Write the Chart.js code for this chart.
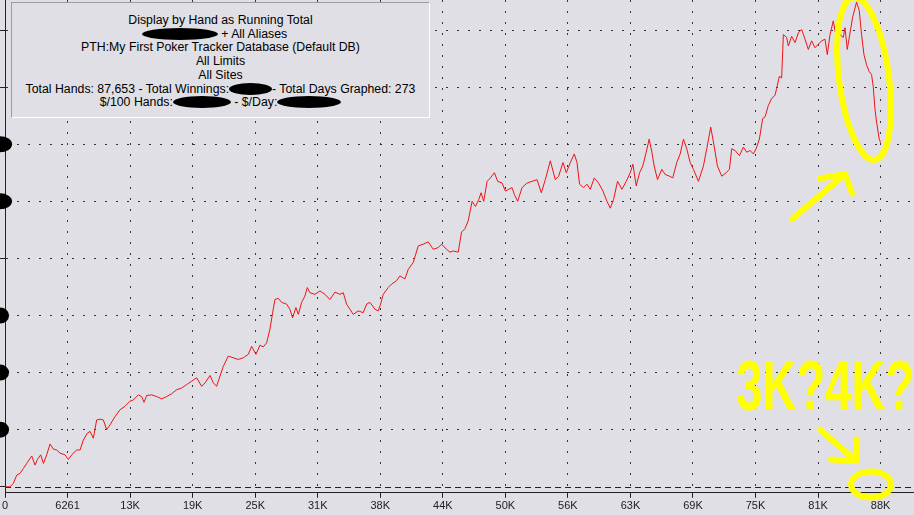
<!DOCTYPE html>
<html>
<head>
<meta charset="utf-8">
<script src="https://cdn.jsdelivr.net/npm/chart.js@4.4.1/dist/chart.umd.min.js"></script>
<style>
    html, body {
        margin: 0;
        padding: 0;
        background: #dfdfe5;
    }
    #wraper {
        position: relative;
        width: 914px;
        height: 515px;
        overflow: hidden;
        background: #dfdfe5;
    }
    .info-box {
        position: absolute;
        left: 11px;
        top: 2px;
        width: 419px;
        height: 116px;
        padding-top: 11px;
        box-sizing: border-box;
        background: #dfdfe5;
        border-top: 1px solid #9c9ca2;
        border-left: 1px solid #9c9ca2;
        border-right: 1px solid #fff;
        border-bottom: 1px solid #fff;
        font: 12.3px "Liberation Sans", Arial, sans-serif;
        line-height: 13.7px;
        color: #000;
        text-align: center;
    }
    .info-box div {
        white-space: nowrap;
    }
    .blot {
        display: inline-block;
        height: 12px;
        background: #000;
        border-radius: 50%;
        vertical-align: -2px;
    }
</style>
</head>
<body>
<div id="wraper">
    <canvas id="chart"></canvas>
    <div class="info-box">
        <div>Display by Hand as Running Total</div>
        <div style="margin-right:12px"><span class="blot" style="width:76px"></span> + All Aliases</div>
        <div>PTH:My First Poker Tracker Database (Default DB)</div>
        <div>All Limits</div>
        <div>All Sites</div>
        <div>Total Hands: 87,653 - Total Winnings:<span class="blot" style="width:43px"></span>- Total Days Graphed: 273</div>
        <div>$/100 Hands:<span class="blot" style="width:58px"></span> - $/Day:<span class="blot" style="width:64px"></span></div>
    </div>
</div>
<script>
// hands played (x) and running total (y)
var hands = [
    0, 500, 830, 1170, 1500, 1830, 2170, 2670, 3000, 3240,
    3570, 3840, 4170, 4500, 4840, 5170, 5500, 6000, 6340, 6670,
    7170, 7510, 7840, 8240, 8510, 8840, 9170, 9510, 9840, 10170,
    10510, 11010, 11510, 12010, 12510, 12840, 13340, 13680, 13910, 14180,
    14680, 15180, 15680, 16180, 16680, 17180, 17680, 18180, 18680, 19180,
    19680, 20020, 20520, 20850, 21180, 21520, 21850, 22350, 22850, 23350,
    23850, 24350, 24690, 25120, 25520, 25850, 26190, 26520, 26790, 27020,
    27360, 27690, 28190, 28520, 28790, 29120, 29360, 29690, 30020, 30260,
    30520, 31020, 31530, 32030, 32530, 33030, 33530, 33860, 34190, 34530,
    34860, 35360, 35860, 36200, 36530, 37030, 37360, 37600, 37860, 38360,
    38700, 39200, 39530, 40030, 40370, 40870, 41370, 41870, 42370, 42870,
    43370, 43700, 44200, 44540, 44870, 45370, 45700, 46040, 46370, 46760,
    47090, 47420, 47660, 47920, 48260, 48590, 48990, 49320, 49760, 50090,
    50420, 50760, 50990, 51320, 51760, 52260, 52760, 53260, 53690, 54090,
    54590, 55090, 55420, 55860, 56190, 56590, 56990, 57260, 57520, 57920,
    58260, 58590, 58990, 59420, 59860, 60260, 60590, 60920, 61320, 61760,
    62190, 62590, 62860, 63190, 63520, 63850, 64190, 64490, 64760, 64990,
    65320, 65750, 66090, 66520, 66850, 67250, 67590, 67920, 68250, 68590,
    68920, 69420, 69920, 70250, 70650, 70990, 71320, 71750, 72190, 72520,
    72750, 73090, 73520, 73920, 74250, 74590, 74920, 75190, 75520, 75850,
    76090, 76420, 76750, 77090, 77250, 77520, 77750, 77920, 78250, 78420,
    78750, 79090, 79420, 79750, 80090, 80420, 80750, 81090, 81420, 81750,
    82090, 82320, 82590, 82920, 83250, 83590, 83920, 84090, 84320, 84850,
    85250, 85520, 85750, 85990, 86250, 86520, 86750, 86920, 87090, 87250,
    87520, 87653
];

var winnings = [
    0, 0, 60, 205, 235, 320, 410, 540, 380, 480,
    560, 410, 560, 750, 660, 645, 590, 560, 480, 560,
    645, 645, 820, 940, 970, 850, 1170, 1185, 1170, 1000,
    1085, 1230, 1350, 1410, 1500, 1520, 1610, 1580, 1480, 1600,
    1610, 1580, 1540, 1580, 1630, 1700, 1730, 1790, 1850, 1910,
    1760, 1820, 1950, 1820, 1760, 1940, 2110, 2290, 2260, 2230,
    2260, 2320, 2460, 2320, 2480, 2450, 2520, 2760, 3050, 3280,
    3300, 3230, 3200, 3110, 2960, 3140, 3020, 3230, 3340, 3490,
    3400, 3370, 3430, 3370, 3280, 3410, 3370, 3400, 3200, 3110,
    3020, 3080, 3050, 3200, 3230, 3110, 3080, 3200, 3370, 3490,
    3550, 3610, 3695, 3640, 3810, 3930, 4220, 4250, 4290, 4160,
    4190, 4250, 4160, 4110, 4130, 4110, 4460, 4520, 4660, 5000,
    4910, 5030, 5150, 5000, 5350, 5410, 5500, 5350, 5320, 5180,
    5210, 5240, 5120, 5000, 5240, 5320, 5350, 5380, 5150, 5380,
    5710, 5380, 5440, 5680, 5500, 5680, 5830, 5680, 5300, 5240,
    5300, 5210, 5410, 5320, 5180, 5000, 4880, 5030, 5350, 5210,
    5350, 5500, 5650, 5270, 5500, 5620, 5860, 6090, 5860, 5620,
    5380, 5560, 5470, 5440, 5410, 5680, 5830, 6090, 5920, 5680,
    5560, 5350, 5620, 5920, 6300, 5970, 5620, 5440, 5500, 5560,
    5920, 5890, 5800, 5950, 5860, 5890, 5830, 5920, 6090, 6450,
    6480, 6680, 6800, 6860, 6980, 7190, 7160, 7920, 7870, 7720,
    7890, 7780, 7950, 8010, 7840, 7660, 7810, 7690, 7750, 7810,
    7840, 7570, 7920, 8160, 7840, 7920, 7870, 8040, 7660, 8220,
    8490, 8340, 7920, 7570, 7390, 7270, 7220, 7010, 6620, 6390,
    6090, 6030
];

var xTicks = [0, 6261, 12522, 18783, 25044, 31305, 37566, 43827, 50089, 56350, 62611, 68872, 75133, 81394, 87653];
var xTickLabels = ["0", "6261", "13K", "19K", "25K", "31K", "38K", "44K", "50K", "56K", "63K", "69K", "75K", "81K", "88K"];
var yTicks = [0, 1000, 2000, 3000, 4000, 5000, 6000, 7000, 8000];

// y labels were blacked out on the original screenshot
var blottedY = [1000, 2000, 3000, 5000, 6000];

var points = [];
for (var i = 0; i < hands.length; i++) {
    points.push({ x: hands[i], y: winnings[i] });
}

var zeroLine = {
    id: "zeroLine",
    beforeDatasetsDraw: function(chart) {
        var ctx = chart.ctx,
            area = chart.chartArea,
            y = Math.round(chart.scales.y.getPixelForValue(0)) + 0.5;
        ctx.save();
        ctx.strokeStyle = "#222";
        ctx.lineWidth = 1;
        ctx.setLineDash([6, 4]);
        ctx.beginPath();
        ctx.moveTo(area.left, y);
        ctx.lineTo(area.right, y);
        ctx.stroke();
        ctx.restore();
    }
};

// marker scribbles that are on the screenshot
var scribbles = {
    id: "scribbles",
    afterDraw: function(chart) {
        var ctx = chart.ctx,
            xs = chart.scales.x,
            ys = chart.scales.y;

        function px(v) { return xs.getPixelForValue(v); }
        function py(v) { return ys.getPixelForValue(v); }

        ctx.save();

        // black blots over the y labels
        ctx.fillStyle = "#000";
        blottedY.forEach(function(v, idx) {
            ctx.beginPath();
            ctx.ellipse(px(0) - 5, py(v), idx > 2 ? 12 : 9, 8, 0, 0, Math.PI * 2);
            ctx.fill();
        });

        ctx.strokeStyle = "#ffff00";
        ctx.fillStyle = "#ffff00";
        ctx.lineCap = "round";
        ctx.lineJoin = "round";
        ctx.lineWidth = 6;

        // loop round the drop
        ctx.beginPath();
        ctx.ellipse(px(86000), py(7150), 25, 82, -0.13, 0, Math.PI * 2);
        ctx.stroke();

        // arrow pointing at it
        ctx.beginPath();
        ctx.moveTo(px(78800), py(4690));
        ctx.lineTo(px(84100), py(5480));
        ctx.moveTo(px(81600), py(5400));
        ctx.lineTo(px(84100), py(5480));
        ctx.lineTo(px(84800), py(5140));
        ctx.stroke();

        // question
        ctx.font = "bold 70px 'Liberation Sans', Arial, sans-serif";
        ctx.textBaseline = "alphabetic";
        ctx.textAlign = "left";
        ctx.fillText("3K?4K?", px(73200), py(1340), 178);

        // arrow down to the end
        ctx.beginPath();
        ctx.moveTo(px(81600), py(1000));
        ctx.lineTo(px(85200), py(450));
        ctx.moveTo(px(85200), py(830));
        ctx.lineTo(px(85200), py(450));
        ctx.lineTo(px(82700), py(480));
        ctx.stroke();

        // circle on the zero line
        ctx.beginPath();
        ctx.ellipse(px(86700), py(40), 20, 13, 0, 0, Math.PI * 2);
        ctx.stroke();

        ctx.restore();
    }
};

var chart = new Chart(document.getElementById("chart").getContext("2d"), {
    type: "line",
    data: {
        datasets: [{
            data: points,
            borderColor: "rgb(238,20,20)",
            borderWidth: 1,
            pointRadius: 0,
            tension: 0,
            fill: false
        }]
    },
    options: {
        responsive: true,
        maintainAspectRatio: false,
        animation: false,
        layout: {
            padding: { left: 0, right: 0, top: 0, bottom: 0 }
        },
        plugins: {
            legend: { display: false },
            tooltip: { enabled: false },
            title: { display: false }
        },
        scales: {
            x: {
                type: "linear",
                min: 0,
                max: 91000,
                afterBuildTicks: function(scale) {
                    scale.ticks = xTicks.map(function(v) { return { value: v }; });
                },
                ticks: {
                    autoSkip: false,
                    maxRotation: 0,
                    padding: 2,
                    color: "#222",
                    font: { family: "'Liberation Sans', Arial, sans-serif", size: 11 },
                    callback: function(value, index) {
                        return xTickLabels[index];
                    }
                },
                grid: {
                    color: "rgba(20,20,20,0.85)",
                    lineWidth: 1,
                    tickLength: 5,
                    tickColor: "#222",
                    tickBorderDash: []
                },
                border: {
                    display: true,
                    color: "#222",
                    width: 1,
                    dash: [2, 9]
                }
            },
            y: {
                type: "linear",
                min: -105,
                max: 8526,
                afterBuildTicks: function(scale) {
                    scale.ticks = yTicks.map(function(v) { return { value: v }; });
                },
                ticks: {
                    display: false
                },
                grid: {
                    color: function(context) {
                        return context.tick && context.tick.value === 0 ? "rgba(0,0,0,0)" : "rgba(20,20,20,0.85)";
                    },
                    lineWidth: 1,
                    tickLength: 5,
                    tickColor: "#222",
                    tickBorderDash: []
                },
                border: {
                    display: true,
                    color: "#222",
                    width: 1,
                    dash: [2, 9]
                }
            }
        }
    },
    plugins: [zeroLine, scribbles]
});
</script>
</body>
</html>
